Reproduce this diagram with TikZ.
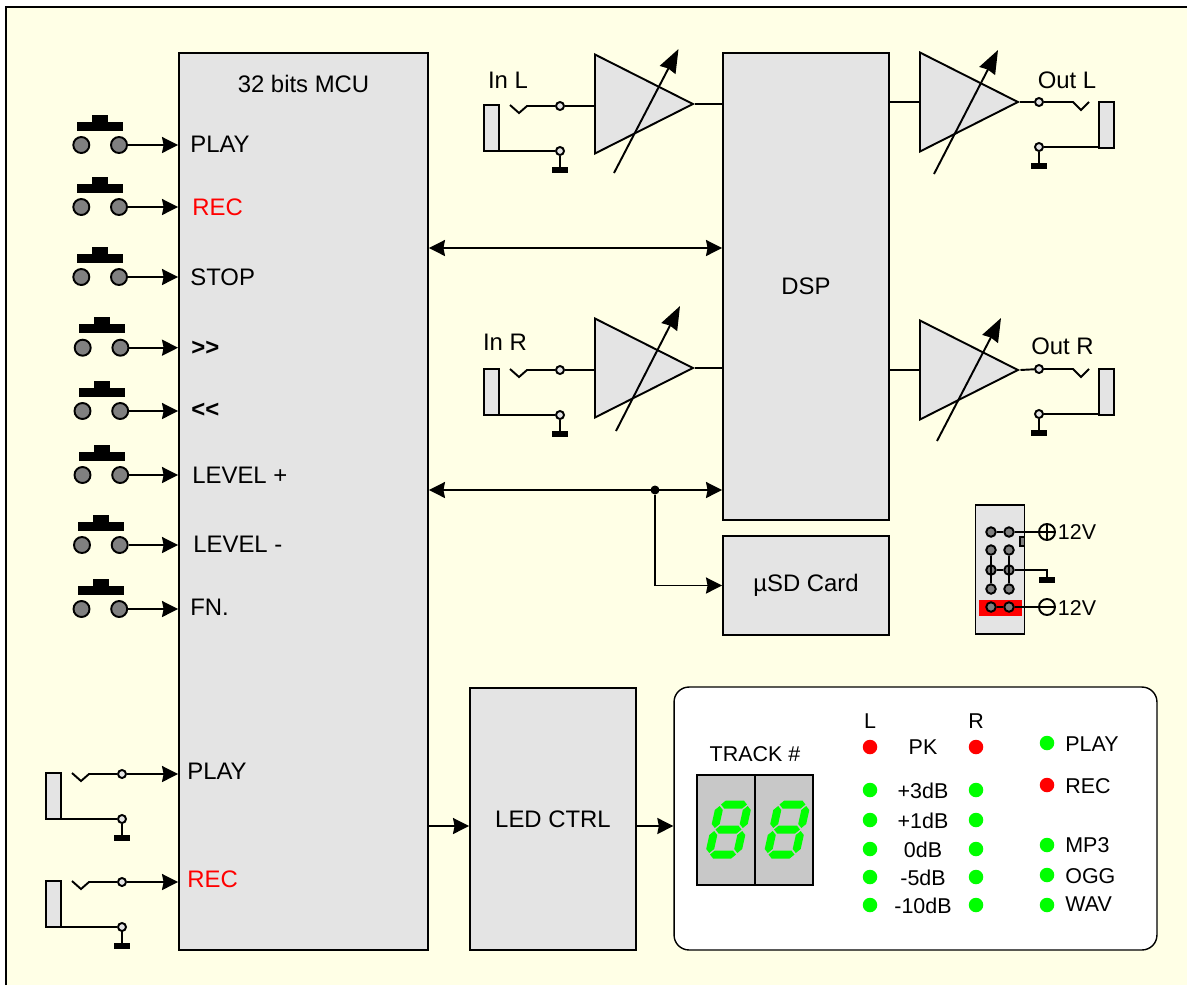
\documentclass[tikz,border=0pt]{standalone}
\usepackage{fontspec}
\setmainfont{Liberation Sans}
\usetikzlibrary{arrows.meta, positioning, shapes.geometric, calc}

\definecolor{paper}{HTML}{FFFFE6}
\definecolor{blockgray}{HTML}{E4E4E4}
\definecolor{dispgray}{HTML}{C8C8C8}
\definecolor{pingray}{HTML}{808080}
\definecolor{ledgreen}{HTML}{00FF00}
\definecolor{ledred}{HTML}{FF0000}

% Jack socket: sleeve, switched tip, two terminals, ground
% #1 name, #2 sleeve left edge, #3 sleeve top
\newcommand{\jackin}[3]{
  \node[sleeve] (#1S) at (#2+7.5, #3+23) {};
  \node[term] (#1T) at (#2+76, #3+1) {};
  \node[term] (#1G) at (#2+76, #3+46) {};
  \node[gndbar] (#1B) at (#2+76, #3+65) {};
  \draw[wire] (#2+26, #3) -- (#2+35, #3+8) -- (#2+43, #3+1) -- (#1T);
  \draw[wire] (#1G -| #1S.east) -- (#1G);
  \draw[wire] (#1G) -- (#1B);
}
% Same socket, mirrored, for the outputs
\newcommand{\jackout}[3]{
  \node[sleeve] (#1S) at (#2+7.5, #3+23) {};
  \node[term] (#1T) at (#2-60, #3) {};
  \node[term] (#1G) at (#2-60, #3+45) {};
  \node[gndbar] (#1B) at (#2-60, #3+64) {};
  \draw[wire] (#1T) -- (#2-26, #3) -- (#2-18, #3+8) -- (#2-10, #3);
  \draw[wire] (#1G -| #1S.west) -- (#1G);
  \draw[wire] (#1G) -- (#1B);
}
% One seven-segment digit, all segments lit
\newcommand{\hseg}[2]{
  \fill[ledgreen] (#1-13, #2) -- (#1-9, #2-4) -- (#1+9, #2-4)
    -- (#1+13, #2) -- (#1+9, #2+4) -- (#1-9, #2+4) -- cycle;
}
\newcommand{\vseg}[2]{
  \fill[ledgreen] (#1, #2-11) -- (#1+4, #2-7) -- (#1+4, #2+7)
    -- (#1, #2+11) -- (#1-4, #2+7) -- (#1-4, #2-7) -- cycle;
}
\newcommand{\digit}[2]{
  \begin{scope}[shift={(#1, #2)}, xslant=0.22]
    \hseg{0}{-25} \hseg{0}{0} \hseg{0}{25}
    \vseg{-14}{-12.5} \vseg{14}{-12.5} \vseg{-14}{12.5} \vseg{14}{12.5}
  \end{scope}
}

\begin{document}
\begin{tikzpicture}[
  x=0.02cm, y=-0.02cm,
  >={Stealth[length=0.32cm, width=0.32cm, inset=0.03cm]},
  font=\fontsize{13.6}{16}\selectfont,
  wire/.style={line width=1.1pt},
  gain/.style={wire, -{Stealth[length=0.47cm, width=0.35cm, inset=0.03cm]}},
  block/.style={draw, line width=1.1pt, fill=blockgray, inner sep=0pt},
  sleeve/.style={block, minimum width=0.3cm, minimum height=0.92cm},
  term/.style={circle, draw, wire, fill=blockgray, inner sep=0pt, minimum size=0.16cm},
  gndbar/.style={fill=black, inner sep=0pt, minimum width=0.32cm, minimum height=0.11cm},
  pin/.style={circle, draw, wire, fill=pingray, inner sep=0pt, minimum size=0.32cm},
  hdrpin/.style={circle, draw, wire, fill=pingray, inner sep=0pt, minimum size=0.19cm},
  amp/.style={isosceles triangle, isosceles triangle stretches, draw, line width=1.1pt,
    fill=blockgray, inner sep=0pt, minimum width=1.98cm, minimum height=1.96cm, anchor=lower side},
  rail/.style={circle, draw, wire, fill=paper, inner sep=0pt, minimum size=0.32cm},
  led/.style={circle, inner sep=0pt, minimum size=0.29cm},
  tag/.style={inner sep=0pt, anchor=west},
  small/.style={font=\fontsize{12.2}{14}\selectfont},
  every node/.style={inner sep=0pt},
]

% ── Sheet ─────────────────────────────────────────────────────────────────────
\useasboundingbox (0,0) rectangle (1187,985);
\fill[paper] (6,7) rectangle (1187,985);
\draw[wire] (6,985) -- (6,7) -- (1187,7);

% ── Main blocks ───────────────────────────────────────────────────────────────
\node[block, minimum width=4.98cm, minimum height=17.94cm] (mcu) at (303.5,501.5) {};
\node at (303.5,84) {32 bits MCU};
\node[block, minimum width=3.32cm, minimum height=9.34cm] (dsp) at (806,286.5) {DSP};
\node[block, minimum width=3.32cm, minimum height=1.98cm] (sd) at (806,585.5) {µSD Card};
\node[block, minimum width=3.32cm, minimum height=5.24cm] (ctrl) at (553,819) {LED CTRL};
\node[draw, line width=0.8pt, fill=white, rounded corners=0.3cm,
  minimum width=9.66cm, minimum height=5.26cm] (panel) at (915.5,818.5) {};

% ── Push buttons ──────────────────────────────────────────────────────────────
\foreach \i/\bx/\by in {1/81.3/145, 2/81.3/207, 3/81.3/277, 4/82.7/347.7,
                        5/82.5/411, 6/82.5/475, 7/82/545, 8/81.5/609}{
  \node[pin] (btnL\i) at (\bx,\by) {};
  \node[pin] (btnR\i) at (\bx+37.7,\by) {};
  \fill (\bx-4,\by-23.3) rectangle (\bx+42,\by-14.3);
  \fill (\bx+11,\by-30.3) rectangle (\bx+27,\by-23.3);
  \draw[->, wire] (btnR\i) -- (btnR\i -| mcu.west);
}
\node[tag] at (190,144) {PLAY};
\node[tag, text=ledred] at (192,207) {REC};
\node[tag] at (190,277) {STOP};
\node[tag, font=\fontsize{13.6}{16}\selectfont\bfseries] at (191,348) {>{}>};
\node[tag, font=\fontsize{13.6}{16}\selectfont\bfseries] at (191,410) {<{}<};
\node[tag] at (192,475) {LEVEL +};
\node[tag] at (193,544) {LEVEL -};
\node[tag] at (190,607) {FN.};

% ── Trigger inputs ────────────────────────────────────────────────────────────
\jackin{trigA}{46}{773}
\jackin{trigB}{46}{881}
\draw[->, wire] (trigAT) -- (trigAT -| mcu.west);
\draw[->, wire] (trigBT) -- (trigBT -| mcu.west);
\node[tag] at (187,771) {PLAY};
\node[tag, text=ledred] at (187,879) {REC};

% ── Audio inputs ──────────────────────────────────────────────────────────────
\jackin{inL}{484}{105}
\jackin{inR}{484}{369}
\node at (508,80) {In L};
\node at (505,342) {In R};
\node[amp] (ampInL) at (594,104) {};
\node[amp] (ampInR) at (594,368) {};
\draw[gain] (614,173) -- (678.5,49);
\draw[gain] (616,431) -- (680,306);
\draw[wire] (inLT) -- (inLT -| ampInL.lower side);
\draw[wire] (inRT) -- (inRT -| ampInR.lower side);
\draw[wire] (ampInL.apex) -- (ampInL.apex -| dsp.west);
\draw[wire] (ampInR.apex) -- (ampInR.apex -| dsp.west);

% ── Audio outputs ─────────────────────────────────────────────────────────────
\jackout{outL}{1099}{102}
\jackout{outR}{1099}{369}
\node at (1067,80) {Out L};
\node at (1062.5,346) {Out R};
\node[amp] (ampOutL) at (919,102) {};
\node[amp] (ampOutR) at (919,370) {};
\draw[gain] (934,174) -- (998,50);
\draw[gain] (937,441) -- (1001,318);
\draw[wire] (ampOutL.lower side -| dsp.east) -- (ampOutL.lower side);
\draw[wire] (ampOutR.lower side -| dsp.east) -- (ampOutR.lower side);
\draw[wire] (ampOutL.apex) -- (outLT);
\draw[wire] (ampOutR.apex) -- (outRT);

% ── Buses ─────────────────────────────────────────────────────────────────────
\coordinate (busA) at (575,248);
\node[circle, fill=black, minimum size=0.18cm] (busDot) at (655,490) {};
\coordinate (ledBus) at (553,826);
\draw[<->, wire] (busA -| mcu.east) -- (busA -| dsp.west);
\draw[<->, wire] (busDot -| mcu.east) -- (busDot -| dsp.west);
\draw[->, wire] (busDot) |- (sd.west);
\draw[->, wire] (ledBus -| mcu.east) -- (ledBus -| ctrl.west);
\draw[->, wire] (ledBus -| ctrl.east) -- (ledBus -| panel.west);

% ── Power header ──────────────────────────────────────────────────────────────
\node[block, minimum width=0.98cm, minimum height=2.58cm] (hdr) at (1000,569.5) {};
\fill[ledred] (979,600) rectangle (1022,616);
\fill[pingray, draw=black, line width=0.6pt] (1020,537) rectangle (1024.5,546);
\foreach \n/\py in {a/532, b/550, c/570, d/589, e/607}{
  \node[hdrpin] (hdrL\n) at (991,\py) {};
  \node[hdrpin] (hdrR\n) at (1009,\py) {};
}
\node[rail] (vPos) at (1047,532) {};
\node[rail] (vNeg) at (1047,607) {};
\node[gndbar] (hdrGnd) at (1047,580) {};
\draw[wire] (vPos.west) -- (vPos.east) (vPos.north) -- (vPos.south);
\draw[wire] (vNeg.west) -- (vNeg.east);
\draw[wire] (hdrLa) -- (hdrRa);
\draw[wire] (hdrRa) -- (vPos);
\draw[wire] (hdrLb) -- (hdrLd);
\draw[wire] (hdrRb) -- (hdrRd);
\draw[wire] (hdrLc) -- (hdrRc);
\draw[wire] (hdrRc) -| (hdrGnd);
\draw[wire] (hdrLe) -- (hdrRe);
\draw[wire] (hdrRe) -- (vNeg);
\node[small] at (1077,532) {12V};
\node[small] at (1077,608) {12V};

% ── Display ───────────────────────────────────────────────────────────────────
\node[small] at (755,754) {TRACK \#};
\node[draw, line width=0.8pt, fill=dispgray, minimum width=1.16cm, minimum height=2.2cm] (dispA) at (726,830) {};
\node[draw, line width=0.8pt, fill=dispgray, minimum width=1.16cm, minimum height=2.2cm] (dispB) at (784,830) {};
\digit{728.5}{829.5}
\digit{787}{829.5}

% ── LEDs ──────────────────────────────────────────────────────────────────────
\node[small] at (870,721) {L};
\node[small] at (976,721) {R};
\node[led, fill=ledred] (pkL) at (870,747) {};
\node[led, fill=ledred] (pkR) at (976,747) {};
\node[small] at (923,747) {PK};
\foreach \py/\lab in {790/+3dB, 820/+1dB, 849/0dB, 877/-5dB, 905/-10dB}{
  \node[led, fill=ledgreen] (lvlL\py) at (870,\py) {};
  \node[led, fill=ledgreen] (lvlR\py) at (976,\py) {};
  \node[small] at (923,\py+1) {\lab};
}
\foreach \py/\col/\lab/\ly in {743/ledgreen/PLAY/744, 785/ledred/REC/786,
                               845/ledgreen/MP3/845, 875/ledgreen/OGG/876, 905/ledgreen/WAV/904}{
  \node[led, fill=\col] (st\lab) at (1047,\py) {};
  \node[tag, small] at (1065,\ly) {\lab};
}

\end{tikzpicture}
\end{document}
